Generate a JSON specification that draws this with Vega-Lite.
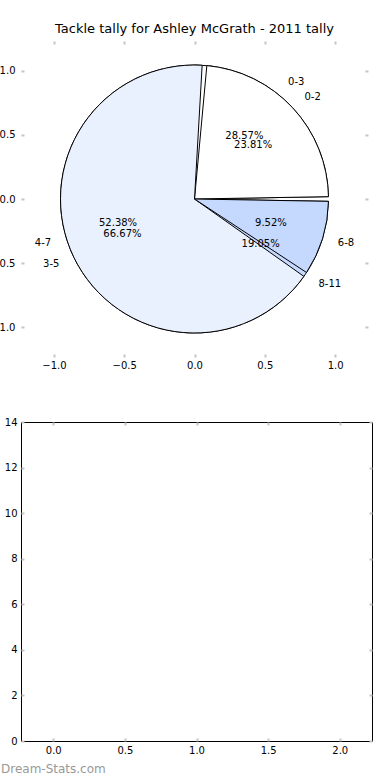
{
  "$schema": "https://vega.github.io/schema/vega-lite/v6.json",
  "padding": {"left": -10, "top": 23, "right": 0, "bottom": 2},
  "background": "white",
  "bounds": "flush",
  "spacing": 65,
  "config": {
    "font": "DejaVu Sans",
    "axis": {"labelFontSize": 10, "labelColor": "black", "tickColor": "#c4c4c4", "tickWidth": 2, "tickSize": 3, "domain": false, "grid": false, "labelFont": "DejaVu Sans"}
  },
  "data": {
    "values": [
      {"pie": 1, "slot": 1, "label": "0-3", "share": 0.2857},
      {"pie": 1, "slot": 2, "label": "4-7", "share": 0.5238},
      {"pie": 1, "slot": 3, "label": "8-11", "share": 0.1905},
      {"pie": 2, "slot": 1, "label": "0-2", "share": 0.2381},
      {"pie": 2, "slot": 2, "label": "3-5", "share": 0.6667},
      {"pie": 2, "slot": 3, "label": "6-8", "share": 0.0952}
    ]
  },
  "vconcat": [
    {
      "width": 347,
      "height": 316,
      "view": {"stroke": null},
      "title": {"text": "Tackle tally for Ashley McGrath - 2011 tally", "fontSize": 13, "fontWeight": "normal", "offset": 4, "color": "black", "font": "DejaVu Sans"},
      "layer": [
        {
          "mark": {"type": "point", "opacity": 0},
          "encoding": {
            "x": {"datum": 0, "type": "quantitative", "scale": {"domain": [-1.234, 1.234], "nice": false, "zero": false},
                  "axis": {"orient": "bottom", "values": [-1, -0.5, 0, 0.5, 1], "format": ".1f", "ticks": false, "labelPadding": 3, "title": null}},
            "y": {"datum": 0, "type": "quantitative", "scale": {"domain": [-1.234, 1.234], "nice": false, "zero": false},
                  "axis": {"orient": "left", "values": [-1, -0.5, 0, 0.5, 1], "format": ".1f", "ticks": false, "labelPadding": 6, "title": null}}
          }
        },
        {
          "mark": {"type": "point", "opacity": 0},
          "encoding": {
            "x": {"datum": 0, "type": "quantitative", "axis": {"orient": "top", "values": [-1, -0.5, 0, 0.5, 1], "labels": false, "offset": -3, "title": null}},
            "y": {"datum": 0, "type": "quantitative", "axis": {"orient": "right", "values": [-1, -0.5, 0, 0.5, 1], "labels": false, "offset": -3, "title": null}}
          }
        },
        {
          "mark": {"type": "point", "opacity": 0},
          "encoding": {
            "x": {"datum": 0, "type": "quantitative", "axis": {"orient": "bottom", "values": [-1, -0.5, 0, 0.5, 1], "labels": false, "offset": -3, "title": null}},
            "y": {"datum": 0, "type": "quantitative", "axis": {"orient": "left", "values": [-1, -0.5, 0, 0.5, 1], "labels": false, "offset": -3, "title": null}}
          }
        },
        {
          "transform": [{"filter": "datum.pie == 1"}],
          "mark": {"type": "arc", "radius": 134, "stroke": "black", "strokeWidth": 1, "padAngle": 0.035},
          "encoding": {
            "theta": {"field": "share", "type": "quantitative", "stack": true, "scale": {"range": [1.5708, -4.7124]}},
            "order": {"field": "slot", "type": "ordinal"},
            "color": {"field": "slot", "type": "nominal", "scale": {"domain": [1, 2, 3], "range": ["#ffffff", "#eaf1fe", "#c5d8fe"]}, "legend": null}
          }
        },
        {
          "transform": [{"filter": "datum.pie == 2"}],
          "mark": {"type": "arc", "radius": 134, "stroke": "black", "strokeWidth": 1, "padAngle": 0.035},
          "encoding": {
            "theta": {"field": "share", "type": "quantitative", "stack": true},
            "order": {"field": "slot", "type": "ordinal"},
            "color": {"field": "slot", "type": "nominal", "legend": null}
          }
        },
        {
          "transform": [{"filter": "datum.pie == 1"}],
          "encoding": {
            "theta": {"field": "share", "type": "quantitative", "stack": true},
            "order": {"field": "slot", "type": "ordinal"},
            "detail": {"field": "slot"}
          },
          "layer": [
            {"mark": {"type": "text", "radius": 150, "fontSize": 10, "baseline": "middle", "color": "black",
                      "align": {"expr": "cos(PI*(datum.share_start+datum.share_end)) < 0 ? 'right' : 'left'"}},
             "encoding": {"text": {"field": "label"}}},
            {"mark": {"type": "text", "radius": 80, "fontSize": 10, "baseline": "middle", "color": "black"},
             "encoding": {"text": {"field": "share", "type": "quantitative", "format": ".2%"}}}
          ]
        },
        {
          "transform": [{"filter": "datum.pie == 2"}],
          "encoding": {
            "theta": {"field": "share", "type": "quantitative", "stack": true},
            "order": {"field": "slot", "type": "ordinal"},
            "detail": {"field": "slot"}
          },
          "layer": [
            {"mark": {"type": "text", "radius": 150, "fontSize": 10, "baseline": "middle", "color": "black",
                      "align": {"expr": "cos(PI*(datum.share_start+datum.share_end)) < 0 ? 'right' : 'left'"}},
             "encoding": {"text": {"field": "label"}}},
            {"mark": {"type": "text", "radius": 80, "fontSize": 10, "baseline": "middle", "color": "black"},
             "encoding": {"text": {"field": "share", "type": "quantitative", "format": ".2%"}}}
          ]
        }
      ]
    },
    {
      "width": 351,
      "height": 319,
      "view": {"stroke": "black", "strokeWidth": 1},
      "title": {"text": "Dream-Stats.com", "orient": "bottom", "anchor": "start", "frame": "group", "dx": -20, "offset": 9, "fontSize": 12, "fontWeight": "normal", "color": "#999999", "font": "DejaVu Sans"},
      "layer": [
        {
          "mark": {"type": "point", "opacity": 0},
          "encoding": {
            "x": {"datum": 0, "type": "quantitative", "scale": {"domain": [-0.225, 2.225], "nice": false, "zero": false},
                  "axis": {"orient": "bottom", "values": [0, 0.5, 1, 1.5, 2], "format": ".1f", "ticks": false, "labelPadding": 4, "title": null}},
            "y": {"datum": 0, "type": "quantitative", "scale": {"domain": [0, 14], "nice": false},
                  "axis": {"orient": "left", "values": [0, 2, 4, 6, 8, 10, 12, 14], "format": "d", "ticks": false, "labelPadding": 4, "title": null}}
          }
        },
        {
          "mark": {"type": "point", "opacity": 0},
          "encoding": {
            "x": {"datum": 0, "type": "quantitative", "axis": {"orient": "top", "values": [0, 0.5, 1, 1.5, 2], "labels": false, "offset": -3, "title": null}},
            "y": {"datum": 0, "type": "quantitative", "axis": {"orient": "right", "values": [0, 2, 4, 6, 8, 10, 12, 14], "labels": false, "offset": -3, "title": null}}
          }
        },
        {
          "mark": {"type": "point", "opacity": 0},
          "encoding": {
            "x": {"datum": 0, "type": "quantitative", "axis": {"orient": "bottom", "values": [0, 0.5, 1, 1.5, 2], "labels": false, "offset": -3, "title": null}},
            "y": {"datum": 0, "type": "quantitative", "axis": {"orient": "left", "values": [0, 2, 4, 6, 8, 10, 12, 14], "labels": false, "offset": -3, "title": null}}
          }
        }
      ]
    }
  ]
}
